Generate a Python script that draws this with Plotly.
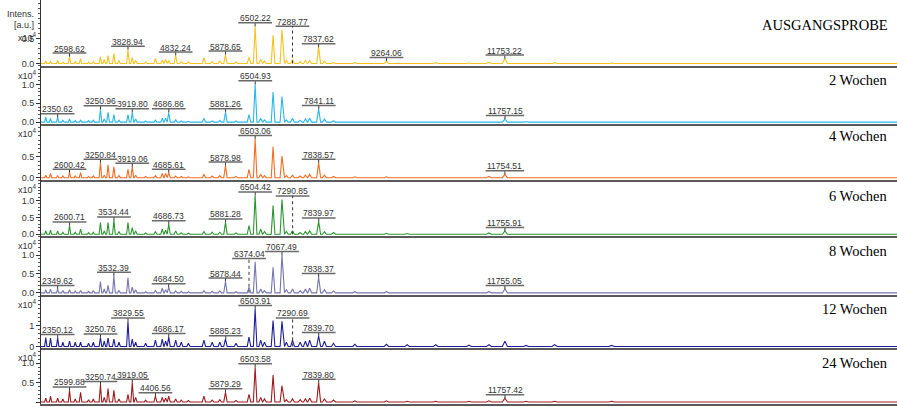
import plotly.graph_objects as go

# ---------------- data ----------------
peak_mz = [2100, 2200, 2350, 2460, 2600, 2720, 2832, 3000, 3100, 3250,
           3330, 3410, 3533, 3640, 3829, 3919, 3990, 4200, 4406, 4550,
           4620, 4686, 4832, 4950, 5100, 5426, 5600, 5760, 5879, 6100,
           6374, 6503, 6620, 6700, 6880, 7067, 7160, 7289, 7450, 7560,
           7650, 7838, 7960, 8150, 8600, 9264, 9700, 10300, 11000, 11420,
           11755, 12200, 12800, 14000]

h_ausgang = [0.05, 0.04, 0.06, 0.03, 0.14, 0.04, 0.10, 0.03, 0.04, 0.14,
             0.08, 0.16, 0.20, 0.06, 0.28, 0.12, 0.06, 0.03, 0.10, 0.07,
             0.08, 0.06, 0.16, 0.04, 0.03, 0.12, 0.04, 0.05, 0.18, 0.03,
             0.13, 0.75, 0.08, 0.05, 0.57, 0.68, 0.06, 0.08, 0.04, 0.06,
             0.06, 0.33, 0.05, 0.02, 0.02, 0.05, 0.015, 0.02, 0.01, 0.03,
             0.10, 0.01, 0.02, 0.01]
h_2w = [0.13, 0.10, 0.13, 0.05, 0.08, 0.04, 0.05, 0.04, 0.05, 0.34,
        0.08, 0.26, 0.20, 0.05, 0.20, 0.26, 0.08, 0.03, 0.05, 0.10,
        0.10, 0.26, 0.06, 0.03, 0.02, 0.10, 0.03, 0.04, 0.26, 0.03,
        0.20, 1.00, 0.10, 0.06, 0.80, 0.68, 0.06, 0.10, 0.05, 0.08,
        0.10, 0.35, 0.08, 0.03, 0.02, 0.02, 0.01, 0.01, 0.01, 0.02,
        0.08, 0.01, 0.01, 0.01]
h_4w = [0.06, 0.10, 0.05, 0.04, 0.12, 0.04, 0.12, 0.03, 0.04, 0.36,
        0.06, 0.31, 0.26, 0.05, 0.20, 0.26, 0.06, 0.03, 0.05, 0.10,
        0.10, 0.12, 0.04, 0.03, 0.02, 0.08, 0.04, 0.05, 0.29, 0.03,
        0.20, 0.93, 0.08, 0.05, 0.74, 0.52, 0.05, 0.06, 0.04, 0.06,
        0.08, 0.36, 0.06, 0.03, 0.02, 0.02, 0.01, 0.01, 0.01, 0.03,
        0.08, 0.01, 0.01, 0.01]
h_6w = [0.10, 0.12, 0.10, 0.06, 0.26, 0.06, 0.15, 0.05, 0.06, 0.35,
        0.10, 0.35, 0.41, 0.08, 0.35, 0.20, 0.10, 0.04, 0.08, 0.15,
        0.12, 0.30, 0.10, 0.04, 0.03, 0.08, 0.06, 0.06, 0.35, 0.04,
        0.26, 1.15, 0.15, 0.08, 0.85, 1.03, 0.08, 0.10, 0.05, 0.08,
        0.10, 0.38, 0.08, 0.05, 0.02, 0.03, 0.02, 0.02, 0.02, 0.04,
        0.10, 0.02, 0.02, 0.02]
h_8w = [0.08, 0.10, 0.10, 0.06, 0.08, 0.05, 0.06, 0.04, 0.06, 0.30,
        0.10, 0.20, 0.45, 0.06, 0.40, 0.15, 0.08, 0.03, 0.06, 0.12,
        0.08, 0.15, 0.05, 0.04, 0.03, 0.06, 0.04, 0.05, 0.30, 0.03,
        0.15, 0.82, 0.10, 0.06, 0.68, 1.00, 0.08, 0.10, 0.06, 0.10,
        0.12, 0.42, 0.08, 0.05, 0.03, 0.03, 0.02, 0.02, 0.02, 0.03,
        0.10, 0.02, 0.02, 0.02]
h_12w = [0.43, 0.40, 0.40, 0.20, 0.25, 0.20, 0.20, 0.15, 0.20, 0.43,
         0.25, 0.40, 0.35, 0.20, 1.20, 0.35, 0.20, 0.15, 0.30, 0.35,
         0.25, 0.45, 0.30, 0.20, 0.15, 0.30, 0.20, 0.20, 0.35, 0.15,
         0.45, 1.80, 0.30, 0.20, 1.24, 1.20, 0.20, 0.30, 0.20, 0.25,
         0.30, 0.50, 0.25, 0.15, 0.10, 0.10, 0.08, 0.08, 0.06, 0.08,
         0.25, 0.05, 0.08, 0.05]
h_24w = [0.10, 0.15, 0.10, 0.08, 0.30, 0.08, 0.25, 0.06, 0.08, 0.44,
         0.12, 0.35, 0.30, 0.08, 0.20, 0.50, 0.12, 0.05, 0.15, 0.12,
         0.10, 0.15, 0.08, 0.05, 0.04, 0.15, 0.05, 0.06, 0.25, 0.04,
         0.20, 0.90, 0.12, 0.08, 0.70, 0.42, 0.06, 0.08, 0.06, 0.08,
         0.10, 0.50, 0.08, 0.05, 0.03, 0.03, 0.02, 0.02, 0.02, 0.03,
         0.10, 0.02, 0.02, 0.02]

lab_ausgang = ["2598.62", "3828.94", "4832.24", "5878.65", "6502.22", "7288.77", "7837.62", "9264.06", "11753.22"]
lab_2w = ["2350.62", "3250.96", "3919.80", "4686.86", "5881.26", "6504.93", "7841.11", "11757.15"]
lab_4w = ["2600.42", "3250.84", "3919.06", "4685.61", "5878.98", "6503.06", "7838.57", "11754.51"]
lab_6w = ["2600.71", "3534.44", "4686.73", "5881.28", "6504.42", "7290.85", "7839.97", "11755.91"]
lab_8w = ["2349.62", "3532.39", "4684.50", "5878.44", "6374.04", "7067.49", "7838.37", "11755.05"]
lab_12w = ["2350.12", "3250.76", "3829.55", "4686.17", "5885.23", "6503.91", "7290.69", "7839.70"]
lab_24w = ["2599.88", "3250.74", "3919.05", "4406.56", "5879.29", "6503.58", "7839.80", "11757.42"]
dashed_labels = ["7288.77", "7290.85", "6374.04", "7290.69"]

panel_names = ["AUSGANGSPROBE", "2 Wochen", "4 Wochen", "6 Wochen", "8 Wochen", "12 Wochen", "24 Wochen"]
tick_vals = [[0, 0.5], [0, 0.5, 1.0], [0, 0.5], [0, 0.5, 1.0], [0, 0.5, 1.0], [0, 1], [0, 0.5, 1.0]]
tick_text = [["0.0", "0.5"], ["0.0", "0.5", "1.0"], ["0.0", "0.5"], ["0.0", "0.5", "1.0"],
             ["0.0", "0.5", "1.0"], ["0", "1"], ["0.0", "0.5", "1.0"]]
mz_span = [2000, 20000]

heights_all = [h_ausgang, h_2w, h_4w, h_6w, h_8w, h_12w, h_24w]
labels_all = [lab_ausgang, lab_2w, lab_4w, lab_6w, lab_8w, lab_12w, lab_24w]

# ---------------- style / layout ----------------
W, H = 897, 407
L_MARGIN = 41
tops = [0, 66, 125, 181, 238, 297, 351]
bottoms = [66, 125, 181, 238, 297, 351, 407]
ppu = [50, 38, 42, 34, 38, 21, 39]          # pixels per 1e4 intensity units
minor_dt = [0.1, 0.1, 0.1, 0.1, 0.1, 0.2, 0.1]
colors = ["#F6C21C", "#2BB7E9", "#F36C22", "#2A962E", "#7676B2", "#1E1F98", "#9E1B1E"]
title_shift = [-25, -14, -12, -16, -15, -14, -15]
unit_shift = [-29, -1, -1, -1, -1, -1, -1]
LAB_FS = 8.5
UL = 3.5   # underline offset above apex (px)
LABEL_FONT = "Arial, Liberation Sans, sans-serif"

fig = go.Figure()
layout = {}
annotations = []
shapes = []

for k in range(7):
    ax = "" if k == 0 else str(k + 1)
    xa, ya = "x" + ax, "y" + ax
    hts = heights_all[k]
    xs, ys = [mz_span[0]], [0]
    for m, h in zip(peak_mz, hts):
        w = 18 + 0.003 * m
        xs += [m - w, m, m + w]
        ys += [0, h, 0]
    xs.append(mz_span[1]); ys.append(0)
    fig.add_trace(go.Scatter(x=xs, y=ys, mode="lines", line=dict(color=colors[k], width=1.1),
                             xaxis=xa, yaxis=ya, hoverinfo="skip", showlegend=False))

    dom = [1 - bottoms[k] / H, 1 - tops[k] / H]
    zero_px = bottoms[k] - 2
    yr = [-2 / ppu[k], (zero_px - tops[k]) / ppu[k]]
    layout["xaxis" + ax] = dict(domain=[0, 1], range=mz_span, anchor=ya, showticklabels=False,
                                showgrid=False, zeroline=False, showline=True, linecolor="#5a5a5a",
                                linewidth=2, ticks="")
    layout["yaxis" + ax] = dict(domain=dom, range=yr, anchor=xa, tickmode="array",
                                tickvals=tick_vals[k], ticktext=tick_text[k], ticks="outside",
                                ticklen=4, tickcolor="#333", showline=True, linecolor="#333",
                                linewidth=1, showgrid=False, zeroline=False,
                                tickfont=dict(family=LABEL_FONT, size=9, color="#333"),
                                minor=dict(tickmode="linear", tick0=0, dtick=minor_dt[k],
                                           ticks="outside", ticklen=2, tickcolor="#555"))

    annotations.append(dict(text=panel_names[k], xref="paper", x=1, xanchor="right", xshift=-7,
                            yref=ya + " domain", y=1, yanchor="middle", yshift=title_shift[k],
                            showarrow=False, font=dict(family="Liberation Serif, serif",
                                                       size=14.5, color="#000")))
    annotations.append(dict(text="x10<sup>4</sup>", xref="paper", x=0, xanchor="right", xshift=-2,
                            yref=ya + " domain", y=1, yanchor="top", yshift=unit_shift[k],
                            showarrow=False, font=dict(family=LABEL_FONT, size=9, color="#333")))

    for lab in labels_all[k]:
        mzv = float(lab)
        idx = min(range(len(peak_mz)), key=lambda i: abs(peak_mz[i] - mzv))
        h = hts[idx]
        dashed = lab in dashed_labels
        if dashed:
            h = max(hh for mm, hh in zip(peak_mz, hts) if abs(mm - mzv) <= 350)
        n_dig = sum(c.isdigit() for c in lab)
        tw = (n_dig * 0.556 + 0.278) * LAB_FS
        half = (tw / 2 + 1.5) * (mz_span[1] - mz_span[0]) / (W - L_MARGIN)
        annotations.append(dict(text=lab, xref=xa, yref=ya, x=mzv, y=h, xanchor="center",
                                yanchor="middle", yshift=UL + 4.5, showarrow=False,
                                font=dict(family=LABEL_FONT, size=LAB_FS, color="#333")))
        shapes.append(dict(type="line", xref=xa, yref=ya, ysizemode="pixel", yanchor=h,
                           x0=mzv - half, x1=mzv + half, y0=UL, y1=UL,
                           line=dict(color="#6a6a6a", width=1.5)))
        if dashed:
            shapes.append(dict(type="line", xref=xa, yref=ya, ysizemode="pixel", yanchor=0,
                               x0=mzv, x1=mzv, y0=0, y1=h * ppu[k] + UL,
                               line=dict(color="#333", width=1, dash="dot")))
        else:
            shapes.append(dict(type="line", xref=xa, yref=ya, ysizemode="pixel", yanchor=h,
                               x0=mzv, x1=mzv, y0=0, y1=UL,
                               line=dict(color="#333", width=1, dash="dot")))

annotations.append(dict(text="Intens.", xref="paper", x=0, xanchor="right", xshift=-5,
                        yref="paper", y=1, yanchor="top", yshift=-7, showarrow=False,
                        font=dict(family=LABEL_FONT, size=9, color="#333")))
annotations.append(dict(text="[a.u.]", xref="paper", x=0, xanchor="right", xshift=-5,
                        yref="paper", y=1, yanchor="top", yshift=-18, showarrow=False,
                        font=dict(family=LABEL_FONT, size=9, color="#333")))

fig.update_layout(width=W, height=H, margin=dict(l=L_MARGIN, r=0, t=0, b=0),
                  paper_bgcolor="white", plot_bgcolor="white",
                  annotations=annotations, shapes=shapes, **layout)
fig.write_html("out.html", config={"displayModeBar": False},
               post_script="document.body.style.margin='0';")
